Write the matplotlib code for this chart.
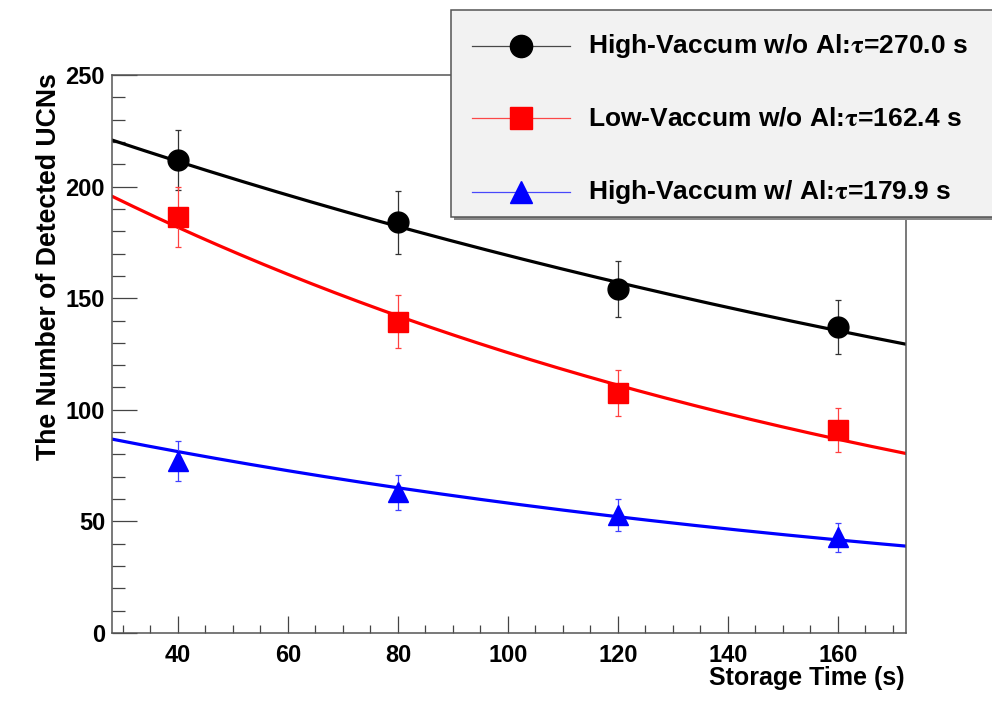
import numpy as np
import matplotlib
matplotlib.use("Agg")
import matplotlib.pyplot as plt
from matplotlib.lines import Line2D
from matplotlib.patches import Rectangle
from matplotlib.ticker import MultipleLocator

plt.rcParams['font.family'] = ['Liberation Sans', 'DejaVu Sans']
plt.rcParams['font.weight'] = 'bold'
plt.rcParams['mathtext.fontset'] = 'stix'

# datos
storage_time = [40, 80, 120, 160]
high_vac = [212, 184, 154, 137]
high_vac_err = [13.5, 14, 12.5, 12]
low_vac = [186.5, 139.5, 107.5, 91]
low_vac_err = [13.5, 12, 10.4, 9.7]
high_vac_al = [77, 63, 53, 43]
high_vac_al_err = [8.8, 8, 7.1, 6.5]

# parametros del ajuste exponencial A*exp(-t/tau)
fit_tau = [270.0, 162.4, 179.9]
fit_amp = [245.0, 232.5, 101.5]

labels = [r'High-Vaccum w/o Al:$\mathrm{\tau}$=270.0 s',
          r'Low-Vaccum w/o Al:$\mathrm{\tau}$=162.4 s',
          r'High-Vaccum w/ Al:$\mathrm{\tau}$=179.9 s']
colors = ['black', 'red', 'blue']
err_colors = ['#333333', '#ff4040', '#4040ff']
markers = ['o', 's', '^']
msizes = [15, 14.5, 14.5]

W, H = 992, 703
fig = plt.figure(figsize=(W / 100, H / 100), dpi=100)
ax = fig.add_axes([112 / W, 1 - 633 / H, (906 - 112) / W, (633 - 75) / H])

xmin, xmax = 28, 172.4
tt = np.linspace(xmin, xmax, 300)

series = [(high_vac, high_vac_err), (low_vac, low_vac_err), (high_vac_al, high_vac_al_err)]
for i, (vals, errs) in enumerate(series):
    ax.plot(tt, fit_amp[i] * np.exp(-tt / fit_tau[i]), color=colors[i], lw=2.3, zorder=2)
    ax.errorbar(storage_time, vals, yerr=errs, fmt='none', ecolor=err_colors[i],
                elinewidth=0.9, capsize=2.2, capthick=0.9, zorder=3)
    ax.plot(storage_time, vals, ls='none', marker=markers[i], ms=msizes[i],
            color=colors[i], mec=colors[i], zorder=4)

ax.set_xlim(xmin, xmax)
ax.set_ylim(0, 250)
ax.xaxis.set_major_locator(MultipleLocator(20))
ax.xaxis.set_minor_locator(MultipleLocator(5))
ax.yaxis.set_major_locator(MultipleLocator(50))
ax.yaxis.set_minor_locator(MultipleLocator(10))
ax.tick_params(which='both', direction='in', top=False, right=False, color='#444444', width=0.9)
ax.tick_params(axis='x', which='major', length=12.5, pad=8, labelsize=17)
ax.tick_params(axis='x', which='minor', length=6)
ax.tick_params(axis='y', which='major', length=18, pad=5, labelsize=17)
ax.tick_params(axis='y', which='minor', length=9.5)
for sp in ax.spines.values():
    sp.set_color('#555555')
    sp.set_linewidth(1.1)

fig.text(905 / W, 1 - 666 / H, 'Storage Time (s)', ha='right', va='top', fontsize=18)
fig.text(49 / W, 1 - 73 / H, 'The Number of Detected UCNs', rotation=90,
         ha='center', va='top', fontsize=19.2)

# leyenda manual (recortada en el borde derecho como en el original)
shadow = Rectangle((454 / W, 1 - 220 / H), 600 / W, 207 / H, transform=fig.transFigure,
                   facecolor='#888888', edgecolor='none', zorder=5)
box = Rectangle((451 / W, 1 - 217 / H), 600 / W, 207 / H, transform=fig.transFigure,
                facecolor='#f2f2f2', edgecolor='#555555', lw=1.1, zorder=6)
fig.add_artist(shadow)
fig.add_artist(box)
rows = [46, 118, 192]
for i, lab in enumerate(labels):
    y = 1 - rows[i] / H
    fig.add_artist(Line2D([472 / W, 570 / W], [y, y], transform=fig.transFigure,
                          color=colors[i], lw=0.9, alpha=0.7, zorder=7))
    fig.add_artist(Line2D([521 / W], [y], transform=fig.transFigure, ls='none',
                          marker=markers[i], ms=msizes[i] + 1, color=colors[i], zorder=8))
    fig.text(588 / W, y, lab, ha='left', va='center', fontsize=19, zorder=8)

fig.savefig('out.png', dpi=100, facecolor='white')
